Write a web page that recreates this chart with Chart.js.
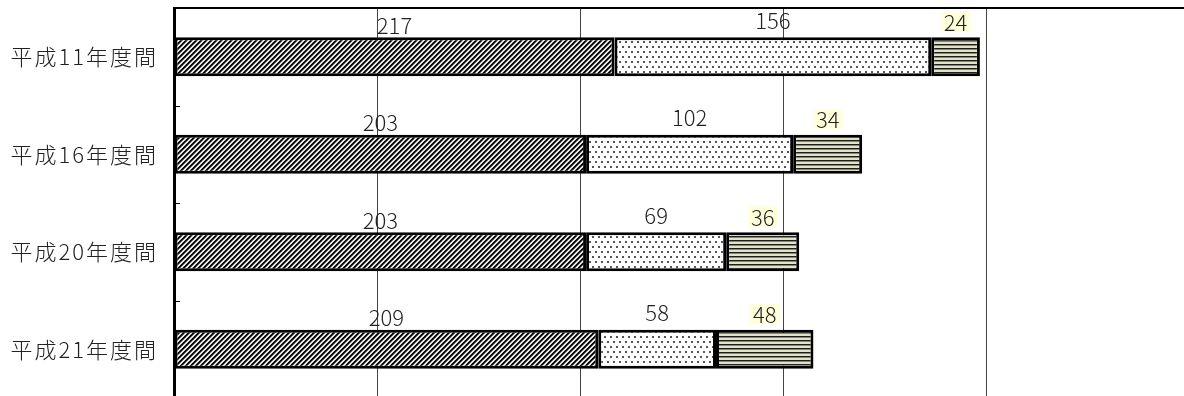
<!DOCTYPE html>
<html lang="ja">
<head>
<meta charset="UTF-8">
<title>平成年度間 内訳</title>
<script src="https://cdn.jsdelivr.net/npm/chart.js"></script>
<style>
    html, body { margin: 0; padding: 0; background: #fff; overflow: hidden; }
    #wrap { position: absolute; left: 0; top: 0; width: 1200px; height: 400px; }
</style>
</head>
<body>
<div id="wrap"><canvas id="chart" width="1200" height="400"></canvas></div>
<script>
    // データ
    const categories = ['平成11年度間', '平成16年度間', '平成20年度間', '平成21年度間'];
    const seriesA = [217, 203, 203, 209];
    const seriesB = [156, 102, 69, 58];
    const seriesC = [24, 34, 36, 48];
    const xMax = 500;
    const xStep = 100;

    const FONT = "'Noto Sans CJK JP', 'Noto Sans', sans-serif";

    // 模様を作る
    function makeTile(w, h, draw) {
        const c = document.createElement('canvas');
        c.width = w; c.height = h;
        const g = c.getContext('2d');
        draw(g, w, h);
        return g.createPattern(c, 'repeat');
    }

    // 斜線
    const hatch = makeTile(5, 5, (g, w, h) => {
        const img = g.createImageData(w, h);
        for (let y = 0; y < h; y++) {
            for (let x = 0; x < w; x++) {
                const k = (x + y) % 5;
                let v = 255;
                if (k === 0 || k === 1) v = 10;
                else if (k === 2) v = 110;
                else if (k === 4) v = 200;
                const i = (y * w + x) * 4;
                img.data[i] = img.data[i + 1] = img.data[i + 2] = v;
                img.data[i + 3] = 255;
            }
        }
        g.putImageData(img, 0, 0);
    });

    // 点
    const dots = makeTile(6, 10, (g, w, h) => {
        g.fillStyle = '#fff';
        g.fillRect(0, 0, w, h);
        g.fillStyle = '#555';
        g.fillRect(1, 1, 2, 2);
        g.fillRect(4, 6, 2, 2);
    });

    // 横線
    const stripes = makeTile(4, 4, (g, w, h) => {
        g.fillStyle = '#e2e2c6';
        g.fillRect(0, 0, w, h);
        g.fillStyle = '#1e1e1a';
        g.fillRect(0, 0, w, 1);
        g.fillStyle = '#85857a';
        g.fillRect(0, 1, w, 1);
    });

    const labelOffsets = [13, 18, 16];
    const labelBg = [null, null, '#ffffdc'];

    const valueLabels = {
        id: 'valueLabels',
        afterDatasetsDraw(chart) {
            const ctx = chart.ctx;
            ctx.save();
            ctx.font = '300 22px ' + FONT;
            ctx.textAlign = 'center';
            ctx.textBaseline = 'middle';
            chart.data.datasets.forEach((ds, di) => {
                const meta = chart.getDatasetMeta(di);
                meta.data.forEach((bar, i) => {
                    const p = bar.getProps(['x', 'y', 'base', 'height'], true);
                    const cx = (p.x + p.base) / 2;
                    const cy = p.y - p.height / 2 - labelOffsets[di];
                    const txt = String(ds.data[i]);
                    if (labelBg[di]) {
                        const w = ctx.measureText(txt).width + 6;
                        ctx.fillStyle = labelBg[di];
                        ctx.fillRect(cx - w / 2, cy - 10, w, 20);
                    }
                    ctx.fillStyle = '#222';
                    ctx.fillText(txt, cx, cy + 1);
                });
            });
            ctx.restore();
        }
    };

    // 縦軸の目盛り（内向き）と項目名
    const yAxisExtras = {
        id: 'yAxisExtras',
        afterDraw(chart) {
            const ctx = chart.ctx;
            const ys = chart.scales.y;
            const left = chart.chartArea.left;
            ctx.save();
            ctx.strokeStyle = '#000';
            ctx.lineWidth = 1;
            for (let i = 0; i < categories.length - 1; i++) {
                const yy = Math.round((ys.getPixelForTick(i) + ys.getPixelForTick(i + 1)) / 2) + 0.5;
                ctx.beginPath();
                ctx.moveTo(left, yy);
                ctx.lineTo(left + 6, yy);
                ctx.stroke();
            }
            ctx.font = '300 22px ' + FONT;
            ctx.letterSpacing = '2px';
            ctx.fillStyle = '#222';
            ctx.textAlign = 'right';
            ctx.textBaseline = 'middle';
            categories.forEach((c, i) => {
                ctx.fillText(c, 158, ys.getPixelForTick(i));
            });
            ctx.restore();
        }
    };

    new Chart(document.getElementById('chart'), {
        type: 'bar',
        data: {
            labels: categories,
            datasets: [
                { data: seriesA, backgroundColor: hatch },
                { data: seriesB, backgroundColor: dots },
                { data: seriesC, backgroundColor: stripes }
            ].map(d => Object.assign(d, {
                borderColor: '#000',
                borderWidth: 3,
                borderSkipped: false,
                categoryPercentage: 1,
                barPercentage: 0.40
            }))
        },
        options: {
            indexAxis: 'y',
            responsive: false,
            animation: false,
            devicePixelRatio: 1,
            layout: { padding: { left: 0, top: 8, right: 11, bottom: 2 } },
            plugins: {
                legend: { display: false },
                tooltip: { enabled: false }
            },
            scales: {
                x: {
                    position: 'top',
                    stacked: true,
                    min: 0,
                    max: xMax,
                    ticks: { display: false, stepSize: xStep },
                    grid: { color: '#444', lineWidth: 1, drawTicks: false },
                    border: { display: true, color: '#000', width: 2 },
                    afterFit(scale) { scale.height = 0; }
                },
                y: {
                    stacked: true,
                    ticks: { display: false },
                    grid: { display: false, drawTicks: false },
                    border: { display: true, color: '#000', width: 3 },
                    afterFit(scale) { scale.width = 174; }
                }
            }
        },
        plugins: [valueLabels, yAxisExtras]
    });
</script>
</body>
</html>
